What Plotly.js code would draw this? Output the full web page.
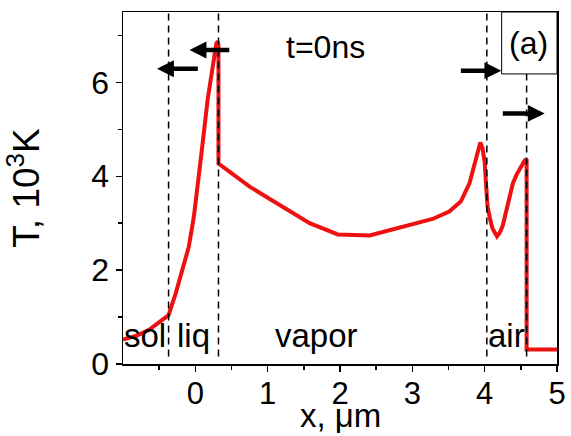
<!DOCTYPE html>
<html><head><meta charset="utf-8">
<script src="https://cdn.plot.ly/plotly-3.0.1.min.js"></script>
<style>body{margin:0;background:#fff}#chart{width:571px;height:436px}</style>
</head><body><div id="chart"></div>
<script>
// Temperature profile T (10^3 K) vs x (um) at t=0ns
const xVals = [-1.0, -0.8, -0.64, -0.37, -0.27, -0.18, -0.09, -0.02, 0.03, 0.09, 0.17, 0.24, 0.29, 0.31, 0.32, 0.32,
  0.75, 1.58, 1.97, 2.41, 2.82, 2.96, 3.28, 3.51, 3.67, 3.79, 3.86, 3.91, 3.94, 3.97, 4.0, 4.02, 4.04, 4.08, 4.11, 4.17,
  4.21, 4.25, 4.3, 4.34, 4.39, 4.44, 4.5, 4.55, 4.58, 4.58, 5.0];
const tVals = [0.52, 0.61, 0.73, 1.04, 1.51, 2.01, 2.5, 3.14, 3.86, 4.56, 5.63, 6.34, 6.83, 6.87, 6.8, 4.27,
  3.78, 3.0, 2.76, 2.74, 2.9, 2.97, 3.09, 3.25, 3.46, 3.85, 4.25, 4.6, 4.72, 4.6, 4.3, 3.8, 3.36, 3.05, 2.88, 2.72,
  2.8, 2.95, 3.3, 3.57, 3.85, 4.03, 4.22, 4.33, 4.37, 0.31, 0.31];

const boundaries = [-0.37, 0.32, 4.03, 4.58];
const boundaryTop = [7.5, 7.5, 7.5, 6.18];

const regionLabels = ['sol', 'liq', 'vapor', 'air'];
const regionX = [-0.70, -0.02, 1.67, 4.30];
const regionY = [0.6, 0.6, 0.6, 0.6];

// arrows: [tail x, head x, y]
const arrowTailX = [0.055, 0.49, 3.65, 4.23];
const arrowHeadX = [-0.53, -0.08, 4.23, 4.83];
const arrowY = [6.29, 6.69, 6.25, 5.34];

const xTicks = [0, 1, 2, 3, 4, 5];
const xMinor = [-0.5, 0.5, 1.5, 2.5, 3.5, 4.5];
const yTicks = [0, 2, 4, 6];
const yMinor = [1, 3, 5, 7];

const xTitle = 'x, \u03bcm';
const yTitle = 'T, 10<sup>3</sup>K';

const FONT = 'Liberation Sans, Arial, sans-serif';

const shapes = boundaries.map((b, i) => ({
  type: 'line', xref: 'x', yref: 'y', x0: b, x1: b, y0: 0.16, y1: boundaryTop[i],
  line: {color: '#000', width: 1.5, dash: '7px,5px'}, layer: 'above'
}));
shapes.push({type: 'rect', xref: 'x', yref: 'y', x0: 4.235, x1: 5.0, y0: 6.18, y1: 7.5,
  line: {color: '#000', width: 1}, fillcolor: '#fff', layer: 'above'});

const annotations = [];
regionLabels.forEach((t, i) => annotations.push({
  x: regionX[i], y: regionY[i], xref: 'x', yref: 'y', text: t, showarrow: false,
  font: {family: FONT, size: 33, color: '#000'}
}));
arrowY.forEach((y, i) => annotations.push({
  x: arrowHeadX[i], y: y, ax: arrowTailX[i], ay: y, xref: 'x', yref: 'y', axref: 'x', ayref: 'y',
  text: '', showarrow: true, arrowhead: 2, arrowsize: 0.75, arrowwidth: 4.5, arrowcolor: '#000'
}));
annotations.push({x: 1.8, y: 6.75, xref: 'x', yref: 'y', text: 't=0ns', showarrow: false,
  font: {family: FONT, size: 32, color: '#000'}});
annotations.push({x: 4.61, y: 6.84, xref: 'x', yref: 'y', text: '(a)', showarrow: false,
  font: {family: FONT, size: 32, color: '#000'}});
// x axis title (placed as paper annotation to sit just below the tick labels)
annotations.push({x: 0.5, y: -0.205, xref: 'paper', yref: 'paper', xanchor: 'center', yanchor: 'bottom',
  text: xTitle, showarrow: false, font: {family: FONT, size: 33, color: '#000'}});

const trace = {x: xVals, y: tVals, type: 'scatter', mode: 'lines',
  line: {color: '#ee1111', width: 4}, hoverinfo: 'none'};

const layout = {
  width: 571, height: 436,
  margin: {l: 123, r: 14, t: 12, b: 71.5},
  paper_bgcolor: '#fff', plot_bgcolor: '#fff',
  showlegend: false,
  font: {family: FONT, color: '#000'},
  xaxis: {
    range: [-1, 5], tickmode: 'array', tickvals: xTicks, ticktext: xTicks.map(String),
    ticks: 'outside', ticklen: 6, tickwidth: 1.5, tickcolor: '#000', ticklabelstandoff: -5,
    minor: {tickmode: 'array', tickvals: xMinor, ticks: 'outside', ticklen: 4, tickwidth: 1.5, tickcolor: '#000', showgrid: false},
    showline: true, linewidth: 1.5, linecolor: '#000', mirror: true,
    showgrid: false, zeroline: false,
    tickfont: {family: FONT, size: 31, color: '#000'}
  },
  yaxis: {
    range: [0, 7.5], tickmode: 'array', tickvals: yTicks, ticktext: yTicks.map(String),
    ticks: 'outside', ticklen: 6, tickwidth: 1.5, tickcolor: '#000',
    minor: {tickmode: 'array', tickvals: yMinor, ticks: 'outside', ticklen: 4, tickwidth: 1.5, tickcolor: '#000', showgrid: false},
    showline: true, linewidth: 1.5, linecolor: '#000', mirror: true,
    showgrid: false, zeroline: false,
    tickfont: {family: FONT, size: 32, color: '#000'},
    title: {text: yTitle, font: {family: FONT, size: 37, color: '#000'}, standoff: 40}
  },
  shapes: shapes,
  annotations: annotations
};

Plotly.newPlot('chart', [trace], layout, {staticPlot: true, displayModeBar: false});
</script></body></html>
